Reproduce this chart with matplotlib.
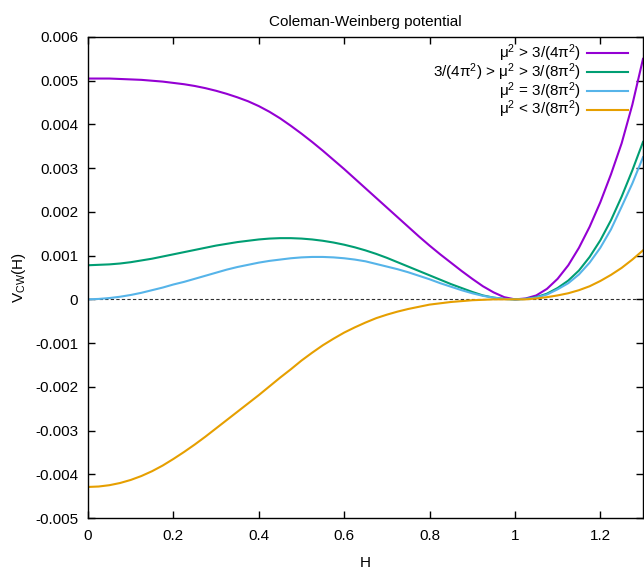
import matplotlib
matplotlib.use("Agg")
import matplotlib.pyplot as plt
import numpy as np

plt.rcParams.update({
    "font.family": ["Liberation Sans", "DejaVu Sans"],
    "font.size": 11,
    "mathtext.fontset": "custom",
    "mathtext.rm": "Liberation Sans",
    "mathtext.it": "Liberation Sans",
    "mathtext.default": "regular",
})

H = np.linspace(0.0, 1.3, 53)

v_purple = [0.00505, 0.00505, 0.00505, 0.00504, 0.00503, 0.00502, 0.00500, 0.00498,
            0.00495, 0.00492, 0.00488, 0.00483, 0.00477, 0.00470, 0.00462, 0.00453,
            0.00442, 0.00429, 0.00414, 0.00397, 0.00379, 0.00360, 0.00340, 0.00319,
            0.00298, 0.00276, 0.00254, 0.00232, 0.00210, 0.00188, 0.00166, 0.00144,
            0.00123, 0.00103, 0.00084, 0.00065, 0.00047, 0.00030, 0.00016, 0.00005,
            0.0, 0.00002, 0.00009, 0.00024, 0.00047, 0.00078, 0.00118, 0.00166,
            0.00222, 0.00286, 0.00357, 0.00445, 0.00550]
v_green = [0.00078, 0.00079, 0.00080, 0.00082, 0.00085, 0.00089, 0.00093, 0.00098,
           0.00103, 0.00108, 0.00113, 0.00118, 0.00123, 0.00127, 0.00131, 0.00134,
           0.00137, 0.00139, 0.00140, 0.00140, 0.00139, 0.00137, 0.00134, 0.00130,
           0.00125, 0.00119, 0.00112, 0.00104, 0.00095, 0.00085, 0.00075, 0.00065,
           0.00055, 0.00045, 0.00035, 0.00026, 0.00017, 0.00009, 0.00004, 0.00001,
           0.0, 0.00001, 0.00005, 0.00013, 0.00026, 0.00043, 0.00066, 0.00097,
           0.00135, 0.00181, 0.00235, 0.00295, 0.00360]
v_blue = [0.0, 0.00001, 0.00003, 0.00006, 0.00010, 0.00015, 0.00021, 0.00027,
          0.00034, 0.00040, 0.00047, 0.00054, 0.00061, 0.00068, 0.00074, 0.00079,
          0.00084, 0.00088, 0.00091, 0.00094, 0.00096, 0.00097, 0.00097, 0.00096,
          0.00094, 0.00091, 0.00087, 0.00081, 0.00075, 0.00069, 0.00062, 0.00054,
          0.00046, 0.00037, 0.00029, 0.00021, 0.00014, 0.00008, 0.00004, 0.00001,
          0.0, 0.00001, 0.00004, 0.00011, 0.00023, 0.00037, 0.00057, 0.00084,
          0.00118, 0.00160, 0.00212, 0.00265, 0.00325]
v_orange = [-0.00429, -0.00428, -0.00425, -0.00420, -0.00413, -0.00404, -0.00393, -0.00380,
            -0.00365, -0.00349, -0.00332, -0.00314, -0.00295, -0.00276, -0.00257, -0.00238,
            -0.00219, -0.00199, -0.00179, -0.00160, -0.00140, -0.00122, -0.00105, -0.00090,
            -0.00076, -0.00064, -0.00053, -0.00043, -0.00035, -0.00028, -0.00022, -0.00017,
            -0.00012, -0.00009, -0.00006, -0.00004, -0.00002, -0.00001, 0.0, 0.0,
            0.0, 0.0, 0.00002, 0.00005, 0.00009, 0.00014, 0.00021, 0.00030,
            0.00042, 0.00056, 0.00072, 0.00091, 0.00112]

labels = [r"μ$^2$ > 3/(4π$^2$)",
          r"3/(4π$^2$) > μ$^2$ > 3/(8π$^2$)",
          r"μ$^2$ = 3/(8π$^2$)",
          r"μ$^2$ < 3/(8π$^2$)"]
colors = ["#9400D3", "#009E73", "#56B4E9", "#E69F00"]
series = [v_purple, v_green, v_blue, v_orange]

xticks = [0, 0.2, 0.4, 0.6, 0.8, 1.0, 1.2]
xticklabels = ["0", "0.2", "0.4", "0.6", "0.8", "1", "1.2"]
yticks = [-0.005, -0.004, -0.003, -0.002, -0.001, 0, 0.001, 0.002, 0.003, 0.004, 0.005, 0.006]
yticklabels = ["-0.005", "-0.004", "-0.003", "-0.002", "-0.001", "0",
               "0.001", "0.002", "0.003", "0.004", "0.005", "0.006"]

fig = plt.figure(figsize=(6.44, 5.76), dpi=100)
ax = fig.add_axes([88 / 644, 58 / 576, 555 / 644, 481 / 576])

ax.axhline(0, color="#303030", lw=0.8, ls=(0, (3, 2)), zorder=1)
for vals, c in zip(series, colors):
    ax.plot(H, vals, color=c, lw=1.5, zorder=2)

ax.set_xlim(0, 1.3)
ax.set_ylim(-0.005, 0.006)
ax.set_xticks(xticks)
ax.set_xticklabels(xticklabels)
ax.set_yticks(yticks)
ax.set_yticklabels(yticklabels)
ax.tick_params(direction="in", length=5, width=1, top=True, right=True, labelsize=11)
ax.tick_params(axis="x", pad=8)
ax.tick_params(axis="y", pad=7)
for s in ax.spines.values():
    s.set_linewidth(1)

ax.set_xlabel("H", fontsize=11, labelpad=9)
ax.set_ylabel(r"V$_{CW}$(H)", fontsize=11, labelpad=5)
ax.set_title("Coleman-Weinberg potential", fontsize=11, pad=8)

# legend drawn gnuplot-style: right-aligned text, sample line to its right
rows = [0.966, 0.927, 0.888, 0.849]
for lab, c, y in zip(labels, colors, rows):
    ax.text(0.8885, y, lab, transform=ax.transAxes, ha="right", va="center", fontsize=11)
    ax.plot([0.899, 0.973], [y, y], transform=ax.transAxes, color=c, lw=1.5, clip_on=False)

fig.savefig("out.png", dpi=100)
